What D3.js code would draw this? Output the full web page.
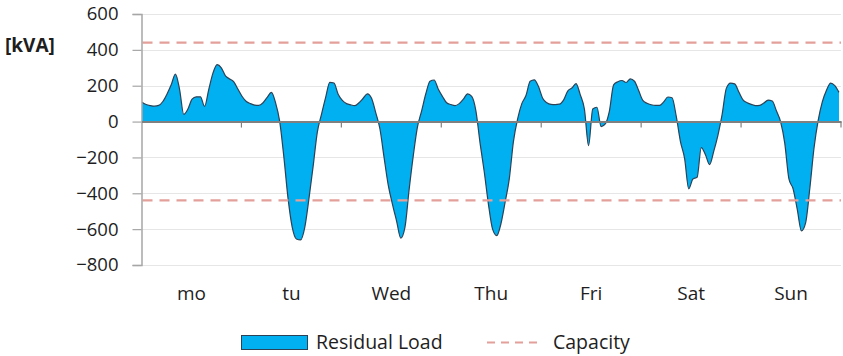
<!DOCTYPE html>
<html>
<head>
<meta charset="utf-8">
<script src="https://cdn.jsdelivr.net/npm/d3@7"></script>
<style>
  html, body { margin: 0; padding: 0; background: #ffffff; }
  svg text { font-family: "Open Sans", "Noto Sans", sans-serif; fill: #1e1e1e; }
</style>
</head>
<body>
<svg id="chart" width="843" height="356"></svg>
<script>
// Weekly residual load, hourly values in kVA (168 points, Monday 00:00 onward)
const days = ["mo", "tu", "Wed", "Thu", "Fri", "Sat", "Sun"];
const residualLoad = [
  // mo
  108, 95, 89, 86, 90, 112, 154, 205, 265, 180, 40, 70,
  125, 138, 138, 85, 180, 270, 318, 300, 255, 238, 222, 180,
  // tu
  140, 112, 100, 92, 90, 105, 135, 163, 105, 0, -200, -430,
  -590, -655, -660, -590, -430, -250, -60, 40, 135, 219, 215, 152,
  // Wed
  118, 100, 93, 89, 105, 130, 155, 130, 50, -40, -200, -355,
  -460, -555, -650, -590, -380, -190, -30, 60, 155, 225, 232, 180,
  // Thu
  140, 105, 95, 89, 100, 125, 155, 140, 60, -120, -280, -460,
  -600, -636, -570, -450, -320, -110, 15, 100, 145, 225, 233, 195,
  // Fri
  130, 105, 96, 95, 97, 120, 170, 187, 212, 150, 70, -134,
  70, 80, -28, -13, 60, 205, 222, 229, 218, 238, 225, 173,
  // Sat
  118, 102, 94, 90, 90, 110, 137, 133, 30, -110, -205, -375,
  -320, -311, -145, -185, -240, -165, -75, 40, 185, 215, 210, 165,
  // Sun
  121, 105, 96, 89, 90, 103, 120, 115, 60, 0, -120, -320,
  -375, -490, -610, -565, -375, -150, 5, 110, 175, 215, 200, 163
];
const capacity = [440, -440];
const yTicks = [600, 400, 200, 0, -200, -400, -600, -800];

const svg = d3.select("#chart");
const plotLeft = 141.5, plotRight = 841, plotTop = 14, plotBottom = 265;

const y = d3.scaleLinear().domain([-800, 600]).range([plotBottom, plotTop]);
const band = d3.scaleBand().domain(days).range([plotLeft, plotRight]);
const x = d3.scaleLinear().domain([0, residualLoad.length - 1]).range([plotLeft + 0.5, plotRight - 2]);

// horizontal gridlines
svg.append("g")
  .selectAll("line")
  .data(yTicks)
  .join("line")
  .attr("x1", plotLeft).attr("x2", plotRight)
  .attr("y1", d => Math.round(y(d)) + 0.5).attr("y2", d => Math.round(y(d)) + 0.5)
  .attr("stroke", "#e6e6e6").attr("stroke-width", 1);

// residual load area
const area = d3.area()
  .x((d, i) => x(i))
  .y0(y(0))
  .y1(d => y(d))
  .curve(d3.curveMonotoneX);
const line = d3.line()
  .x((d, i) => x(i))
  .y(d => y(d))
  .curve(d3.curveMonotoneX);

svg.append("path")
  .datum(residualLoad)
  .attr("d", area)
  .attr("fill", "#00b0f0");
svg.append("path")
  .datum(residualLoad)
  .attr("d", line)
  .attr("fill", "none")
  .attr("stroke", "#2c4257")
  .attr("stroke-width", 1.2);

// capacity limits
svg.append("g")
  .selectAll("line")
  .data(capacity)
  .join("line")
  .attr("x1", plotLeft + 1).attr("x2", plotRight)
  .attr("y1", d => y(d)).attr("y2", d => y(d))
  .attr("stroke", "#e3a09b").attr("stroke-width", 2.2)
  .attr("stroke-dasharray", "10,7");

// y axis
const yAxis = d3.axisLeft(y).tickValues(yTicks).tickSize(9).tickPadding(14);
const gy = svg.append("g").attr("transform", `translate(${plotLeft},0)`).call(yAxis);
gy.select(".domain").attr("stroke", "#a6a6a6").attr("stroke-width", 1.5);
gy.selectAll(".tick line").attr("stroke", "#a6a6a6").attr("stroke-width", 1.2);
gy.selectAll(".tick text").attr("font-size", 18.5).attr("fill", "#1e1e1e")
  .style("font-family", "'Open Sans', 'Noto Sans', sans-serif");

// x axis along zero
const xAxis = d3.axisBottom(band).tickSize(0).tickFormat(() => "");
const gx = svg.append("g").attr("transform", `translate(0,${y(0)})`).call(xAxis);
gx.select(".domain").attr("stroke", "#808080").attr("stroke-width", 2);
gx.selectAll(".boundary")
  .data(days.map(d => band(d) + band.bandwidth()))
  .join("line")
  .attr("class", "boundary")
  .attr("x1", d => d).attr("x2", d => d)
  .attr("y1", 0).attr("y2", 6)
  .attr("stroke", "#808080").attr("stroke-width", 1.2);

// day labels below the plot
svg.append("g")
  .selectAll("text")
  .data(days)
  .join("text")
  .attr("x", d => band(d) + band.bandwidth() / 2)
  .attr("y", 300)
  .attr("text-anchor", "middle")
  .attr("font-size", 19)
  .text(d => d);

// unit label
svg.append("text")
  .attr("x", 5).attr("y", 52)
  .attr("font-size", 19).attr("font-weight", "bold")
  .text("[kVA]");

// legend
const lg = svg.append("g");
lg.append("rect")
  .attr("x", 241.5).attr("y", 335.5).attr("width", 66).attr("height", 14)
  .attr("fill", "#00b0f0").attr("stroke", "#2c4257").attr("stroke-width", 1);
lg.append("text").attr("x", 316).attr("y", 349).attr("font-size", 19.5).text("Residual Load");
lg.append("line")
  .attr("x1", 487).attr("x2", 542).attr("y1", 342.5).attr("y2", 342.5)
  .attr("stroke", "#e3a09b").attr("stroke-width", 2.2).attr("stroke-dasharray", "8,6");
lg.append("text").attr("x", 553).attr("y", 349).attr("font-size", 19.5).text("Capacity");
</script>
</body>
</html>
